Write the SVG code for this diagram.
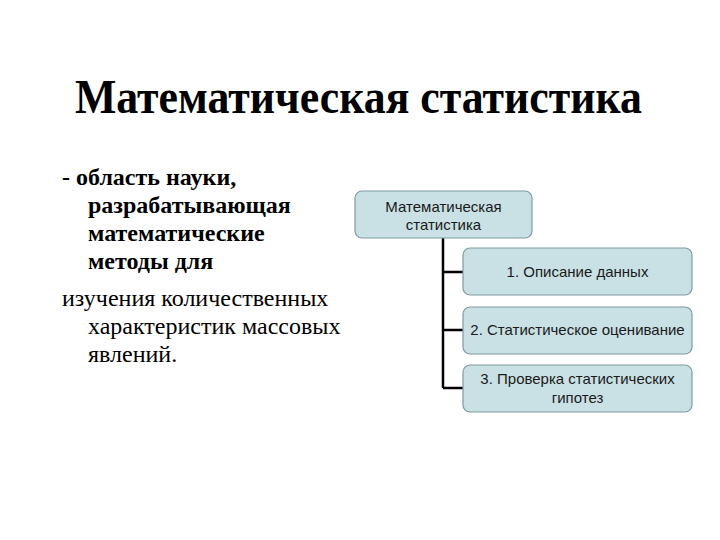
<svg xmlns="http://www.w3.org/2000/svg" width="720" height="540" viewBox="0 0 720 540">
<style>
.title{font-family:"Liberation Serif","Times New Roman",serif;font-weight:bold;font-size:49px;fill:#000}
.body{font-family:"Liberation Serif","Times New Roman",serif;font-size:24px;fill:#000}
.b{font-weight:bold}
.box{fill:#c9e1e5;stroke:#7f9aa0;stroke-width:1.2}
.lbl{font-family:"Liberation Sans",Arial,sans-serif;font-size:15px;fill:#1a1a1a;text-anchor:middle}
.conn{stroke:#000;stroke-width:2.5;fill:none}
</style>
<rect width="720" height="540" fill="#fff"/>
<text class="title" x="75" y="113" textLength="567" lengthAdjust="spacingAndGlyphs">Математическая статистика</text>
<g id="definition">
<text class="body b" x="62" y="185">- область науки,</text>
<text class="body b" x="88" y="213">разрабатывающая</text>
<text class="body b" x="88" y="241">математические</text>
<text class="body b" x="88" y="269">методы для</text>
<text class="body" x="62" y="306">изучения количественных</text>
<text class="body" x="88" y="334">характеристик массовых</text>
<text class="body" x="88" y="362">явлений.</text>
</g>
<g id="connectors">
<path class="conn" d="M443,238 V388 M443,272 H463 M443,330 H463 M443,388 H463"/>
</g>
<g id="root">
<rect class="box" x="355" y="191" width="177" height="47" rx="7"/>
<text class="lbl" x="443.5" y="212">Математическая</text>
<text class="lbl" x="443.5" y="230">статистика</text>
</g>
<g id="n1">
<rect class="box" x="463" y="248" width="229" height="47" rx="7"/>
<text class="lbl" x="577.5" y="277">1. Описание данных</text>
</g>
<g id="n2">
<rect class="box" x="463" y="307" width="229" height="47" rx="7"/>
<text class="lbl" x="577.5" y="335">2. Статистическое оценивание</text>
</g>
<g id="n3">
<rect class="box" x="463" y="365" width="229" height="47" rx="7"/>
<text class="lbl" x="577.5" y="384">3. Проверка статистических</text>
<text class="lbl" x="577.5" y="403">гипотез</text>
</g>
</svg>
